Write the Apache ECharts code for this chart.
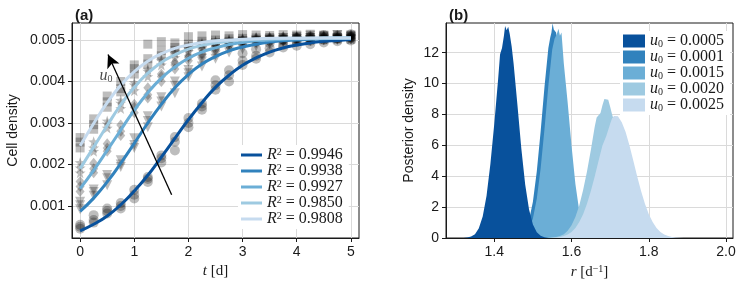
<!DOCTYPE html>
<html><head><meta charset="utf-8">
<script src="https://cdn.jsdelivr.net/npm/echarts@6/dist/echarts.min.js"></script>
<style>html,body{margin:0;padding:0;background:#fff}#c{width:744px;height:287px}</style>
</head><body><div id="c"></div>
<script>
// ---------- Panel (a): data ----------
const times = [0,0.25,0.5,0.75,1,1.25,1.5,1.75,2,2.25,2.5,2.75,3,3.25,3.5,3.75,4,4.25,4.5,4.75,5];
const r2Labels = ['0.9946','0.9938','0.9927','0.9850','0.9808'];
const fit1 = [0.00040,0.00056,0.00076,0.00103,0.00136,0.00174,0.00218,0.00263,0.00308,0.00349,0.00386,0.00415,0.00439,0.00457,0.00471,0.00481,0.00488,0.00493,0.00497,0.00499,0.00501];
const fit2 = [0.00087,0.00119,0.00158,0.00203,0.00251,0.00300,0.00345,0.00385,0.00417,0.00442,0.00460,0.00474,0.00483,0.00490,0.00495,0.00498,0.00500,0.00502,0.00503,0.00504,0.00504];
const fit3 = [0.00142,0.00186,0.00234,0.00283,0.00331,0.00373,0.00408,0.00435,0.00456,0.00471,0.00481,0.00489,0.00494,0.00498,0.00500,0.00502,0.00503,0.00503,0.00504,0.00504,0.00505];
const fit4 = [0.00190,0.00242,0.00294,0.00344,0.00386,0.00420,0.00446,0.00464,0.00478,0.00487,0.00493,0.00497,0.00500,0.00502,0.00503,0.00504,0.00504,0.00504,0.00505,0.00505,0.00505];
const fit5 = [0.00245,0.00299,0.00349,0.00391,0.00424,0.00449,0.00467,0.00480,0.00488,0.00494,0.00498,0.00500,0.00502,0.00503,0.00504,0.00504,0.00504,0.00505,0.00505,0.00505,0.00505];

// observations (three replicates per time point)
const obs1a = [0.00050,0.00078,0.00094,0.00107,0.00139,0.00170,0.00222,0.00266,0.00300,0.00347,0.00403,0.00427,0.00468,0.00478,0.00492,0.00500,0.00505,0.00508,0.00512,0.00510,0.00514];
const obs1b = [0.00045,0.00066,0.00082,0.00094,0.00127,0.00158,0.00215,0.00234,0.00290,0.00332,0.00391,0.00415,0.00450,0.00462,0.00480,0.00488,0.00495,0.00498,0.00500,0.00503,0.00506];
const obs1c = [0.00055,0.00060,0.00088,0.00100,0.00118,0.00165,0.00205,0.00255,0.00312,0.00340,0.00380,0.00400,0.00440,0.00455,0.00470,0.00482,0.00486,0.00490,0.00494,0.00497,0.00499];
const obs2a = [0.00110,0.00134,0.00167,0.00194,0.00263,0.00316,0.00352,0.00400,0.00428,0.00455,0.00470,0.00480,0.00490,0.00498,0.00502,0.00505,0.00508,0.00510,0.00509,0.00512,0.00510];
const obs2b = [0.00102,0.00125,0.00150,0.00210,0.00247,0.00290,0.00340,0.00372,0.00410,0.00436,0.00455,0.00470,0.00478,0.00485,0.00490,0.00494,0.00497,0.00498,0.00500,0.00501,0.00502];
const obs2c = [0.00092,0.00140,0.00175,0.00200,0.00240,0.00305,0.00362,0.00390,0.00420,0.00448,0.00463,0.00488,0.00495,0.00493,0.00498,0.00500,0.00503,0.00505,0.00506,0.00505,0.00507];
const obs3a = [0.00159,0.00203,0.00250,0.00295,0.00345,0.00385,0.00418,0.00445,0.00462,0.00478,0.00488,0.00495,0.00500,0.00504,0.00506,0.00508,0.00507,0.00510,0.00509,0.00511,0.00512];
const obs3b = [0.00147,0.00190,0.00232,0.00280,0.00325,0.00368,0.00400,0.00430,0.00450,0.00468,0.00478,0.00485,0.00490,0.00494,0.00496,0.00498,0.00500,0.00499,0.00501,0.00502,0.00503];
const obs3c = [0.00135,0.00180,0.00240,0.00270,0.00338,0.00360,0.00412,0.00440,0.00458,0.00465,0.00484,0.00492,0.00496,0.00500,0.00503,0.00504,0.00505,0.00506,0.00507,0.00506,0.00508];
const obs4a = [0.00205,0.00255,0.00305,0.00355,0.00398,0.00430,0.00455,0.00472,0.00485,0.00493,0.00498,0.00502,0.00505,0.00507,0.00508,0.00509,0.00510,0.00508,0.00511,0.00510,0.00512];
const obs4b = [0.00192,0.00240,0.00288,0.00335,0.00378,0.00412,0.00440,0.00458,0.00472,0.00482,0.00488,0.00492,0.00496,0.00498,0.00500,0.00501,0.00500,0.00502,0.00502,0.00503,0.00503];
const obs4c = [0.00180,0.00232,0.00298,0.00348,0.00392,0.00425,0.00450,0.00468,0.00480,0.00490,0.00495,0.00500,0.00502,0.00504,0.00505,0.00506,0.00506,0.00507,0.00507,0.00508,0.00508];
const obs5a = [0.00265,0.00310,0.00365,0.00400,0.00440,0.00490,0.00496,0.00493,0.00508,0.00510,0.00512,0.00510,0.00513,0.00512,0.00511,0.00513,0.00512,0.00514,0.00512,0.00513,0.00512];
const obs5b = [0.00254,0.00296,0.00351,0.00383,0.00431,0.00455,0.00475,0.00482,0.00490,0.00497,0.00500,0.00503,0.00504,0.00505,0.00506,0.00505,0.00507,0.00506,0.00507,0.00506,0.00507];
const obs5c = [0.00240,0.00285,0.00338,0.00375,0.00418,0.00442,0.00462,0.00475,0.00484,0.00490,0.00494,0.00497,0.00499,0.00500,0.00501,0.00500,0.00502,0.00501,0.00502,0.00503,0.00502];

const aXTicks = [0,1,2,3,4,5];
const aYTicks = [0.001,0.002,0.003,0.004,0.005];
const arrowTail = [1.69, 0.00127];
const arrowHead = [0.515, 0.00465];
const u0TextPos = [0.48, 0.00413];

// ---------- Panel (b): data ----------
const u0Labels = ['0.0005','0.0001','0.0015','0.0020','0.0025'];
const rA = [1.32,1.33,1.34,1.35,1.36,1.37,1.38,1.39,1.40,1.41,1.415,1.42,1.425,1.428,1.432,1.436,1.44,1.445,1.45,1.46,1.47,1.48,1.49,1.50,1.51,1.52,1.53,1.54];
const dA = [0,0.03,0.09,0.25,0.63,1.4,2.74,4.8,7.4,10.3,11.9,12.3,13.1,13.72,13.45,13.68,13.2,12.4,11.3,8.6,5.8,3.47,1.85,0.88,0.37,0.14,0.045,0];
const rB = [1.44,1.45,1.46,1.47,1.48,1.49,1.50,1.51,1.52,1.53,1.54,1.545,1.548,1.551,1.554,1.558,1.56,1.57,1.58,1.59,1.60,1.61,1.62,1.63,1.64,1.65,1.66];
const dB = [0,0.03,0.08,0.2,0.5,1.15,2.35,4.3,6.9,9.8,12.3,13.0,13.3,13.9,13.5,13.6,13.3,11.6,8.9,6.1,3.7,2.0,0.95,0.4,0.15,0.05,0];
const rC = [1.44,1.45,1.46,1.47,1.48,1.49,1.50,1.51,1.52,1.53,1.54,1.55,1.556,1.562,1.566,1.57,1.574,1.58,1.59,1.60,1.61,1.62,1.63,1.64,1.65,1.66,1.67];
const dC = [0,0.007,0.025,0.08,0.23,0.57,1.27,2.54,4.5,7.05,9.85,12.2,12.9,13.2,13.55,13.1,13.3,11.3,8.75,5.98,3.5,1.75,0.85,0.36,0.14,0.05,0];
const rD = [1.54,1.55,1.56,1.57,1.58,1.59,1.60,1.61,1.62,1.63,1.64,1.65,1.66,1.665,1.67,1.675,1.68,1.685,1.69,1.695,1.70,1.705,1.71,1.72,1.73,1.74,1.75,1.76,1.77,1.78,1.79,1.80,1.81,1.82,1.83,1.84];
const dD = [0,0.027,0.06,0.125,0.25,0.47,0.82,1.36,2.1,3.1,4.3,5.7,7.2,7.8,7.9,8.1,8.6,9.0,9.1,8.95,8.5,8.0,7.6,6.9,5.65,4.3,3.1,2.1,1.36,0.82,0.47,0.25,0.125,0.06,0.027,0];
const rE = [1.54,1.55,1.56,1.57,1.58,1.59,1.60,1.61,1.62,1.63,1.64,1.65,1.66,1.67,1.68,1.69,1.70,1.705,1.71,1.715,1.72,1.73,1.74,1.75,1.76,1.77,1.78,1.79,1.80,1.81,1.82,1.83,1.84,1.85,1.86,1.87,1.88,1.89,1.90];
const dE = [0,0.017,0.034,0.068,0.13,0.23,0.39,0.65,1.03,1.53,2.21,3.04,3.98,5.0,5.99,6.6,7.4,7.75,7.9,7.85,7.88,7.5,6.86,5.99,5.0,3.98,3.04,2.21,1.53,1.03,0.65,0.39,0.23,0.13,0.068,0.034,0.017,0.005,0];
const bXTicks = [1.4,1.6,1.8,2.0];
const bYTicks = [0,2,4,6,8,10,12];

// ---------- styling ----------
const blues = ['#08519c','#3182bd','#6baed6','#9ecae1','#c6dbef'];
const SANS = 'Liberation Sans';
const SERIF = 'Liberation Serif';
const INK = '#1a1a1a';
const GRIDC = '#dadada';
const STAR = 'path://M0,-10 L2.35,-3.24 L9.51,-3.09 L3.8,1.24 L5.88,8.09 L0,4 L-5.88,8.09 L-3.8,1.24 L-9.51,-3.09 L-2.35,-3.24 Z';

const pairs = (xs, ys) => xs.map((x, i) => [x, ys[i]]);
const reps = (a, b, c) => times.flatMap((t, i) => [[t, a[i]], [t, b[i]], [t, c[i]]]);

const fits = [fit1, fit2, fit3, fit4, fit5];
const obs = [[obs1a,obs1b,obs1c],[obs2a,obs2b,obs2c],[obs3a,obs3b,obs3c],[obs4a,obs4b,obs4c],[obs5a,obs5b,obs5c]];
const shapes = [
  {symbol:'circle', size:10, rot:0},
  {symbol:'triangle', size:10, rot:180},
  {symbol:'diamond', size:[9,11], rot:0},
  {symbol:STAR, size:11, rot:0},
  {symbol:'rect', size:9, rot:0}
];

function axisCommon(ticks, fmt) {
  return {
    type: 'value',
    axisLine: {show: true, onZero: false, lineStyle: {color: INK, width: 1}},
    axisTick: {show: true, inside: false, length: 4, customValues: ticks, lineStyle: {color: INK, width: 1}},
    axisLabel: {customValues: ticks, formatter: fmt, fontFamily: SANS, fontSize: 14, color: INK, margin: 7},
    splitLine: {show: true, lineStyle: {color: GRIDC, width: 1}}
  };
}

const series = [];
// observations (below the fitted curves)
obs.forEach((o, i) => {
  series.push({
    type: 'scatter', name: 'obs' + i, xAxisIndex: 0, yAxisIndex: 0,
    data: reps(o[0], o[1], o[2]), symbol: shapes[i].symbol, symbolSize: shapes[i].size,
    symbolRotate: shapes[i].rot, itemStyle: {color: 'rgba(0,0,0,0.32)'}, z: 3, silent: true
  });
});
// fitted curves
fits.forEach((f, i) => {
  series.push({
    type: 'line', name: r2Labels[i], xAxisIndex: 0, yAxisIndex: 0,
    data: pairs(times, f), smooth: true, symbol: 'none',
    lineStyle: {color: blues[i], width: 3}, itemStyle: {color: blues[i]}, z: 4
  });
});
// arrow and u0 label
series.push({
  type: 'scatter', name: 'u0label', xAxisIndex: 0, yAxisIndex: 0,
  data: [u0TextPos], symbolSize: 1, itemStyle: {color: 'rgba(0,0,0,0)'}, z: 6,
  label: {show: true, position: 'inside', formatter: '{i|u}{s|0}',
    rich: {i: {fontFamily: SERIF, fontStyle: 'italic', fontSize: 16, color: INK},
           s: {fontFamily: SERIF, fontSize: 10, color: INK, verticalAlign: 'bottom', padding: [6,0,0,0]}}},
  markLine: {silent: true, symbol: ['none', 'arrow'], symbolSize: [10, 13],
    lineStyle: {color: '#000', width: 1.3, type: 'solid'}, label: {show: false},
    data: [[{coord: arrowTail}, {coord: arrowHead}]]}
});
// densities: draw #3182bd .. #c6dbef then dark on top
const dens = [[rA,dA],[rB,dB],[rC,dC],[rD,dD],[rE,dE]];
[1,2,3,4,0].forEach(i => {
  series.push({
    type: 'line', name: u0Labels[i], xAxisIndex: 1, yAxisIndex: 1,
    data: pairs(dens[i][0], dens[i][1]), symbol: 'none', smooth: false,
    lineStyle: {width: 0, color: blues[i]}, itemStyle: {color: blues[i]},
    areaStyle: {color: blues[i], opacity: 1}, z: 2
  });
});

const legendText = (sub) => ({
  fontFamily: SERIF, fontSize: 16, color: INK, lineHeight: 16,
  rich: {
    i: {fontFamily: SERIF, fontStyle: 'italic', fontSize: 16, color: INK, lineHeight: 16},
    s: {fontFamily: SERIF, fontSize: 10, color: INK, verticalAlign: sub ? 'bottom' : 'top', lineHeight: 10},
    t: {fontFamily: SERIF, fontSize: 16, color: INK, lineHeight: 16}
  }
});

const option = {
  animation: false,
  backgroundColor: '#fff',
  title: [
    {text: '(a)', left: 70, top: 3, textStyle: {fontFamily: SANS, fontSize: 15, fontWeight: 'bold', color: INK}},
    {text: '(b)', left: 444, top: 3, textStyle: {fontFamily: SANS, fontSize: 15, fontWeight: 'bold', color: INK}}
  ],
  grid: [
    {left: 72, top: 23, width: 287, height: 215, show: true, borderColor: INK, borderWidth: 1, backgroundColor: 'rgba(0,0,0,0)'},
    {left: 446, top: 23, width: 287, height: 215, show: true, borderColor: INK, borderWidth: 1, backgroundColor: 'rgba(0,0,0,0)'}
  ],
  xAxis: [
    Object.assign(axisCommon(aXTicks, v => String(Math.round(v))), {
      gridIndex: 0, min: -0.15, max: 5.15,
      name: '{i|t} [d]', nameLocation: 'middle', nameGap: 24,
      nameTextStyle: {fontFamily: SERIF, fontSize: 15, color: INK,
        rich: {i: {fontFamily: SERIF, fontStyle: 'italic', fontSize: 15, color: INK}}}
    }),
    Object.assign(axisCommon(bXTicks, v => v.toFixed(1)), {
      gridIndex: 1, min: 1.275, max: 2.018,
      name: '{i|r} [d{s|−1}]', nameLocation: 'middle', nameGap: 25,
      nameTextStyle: {fontFamily: SERIF, fontSize: 15, color: INK,
        rich: {i: {fontFamily: SERIF, fontStyle: 'italic', fontSize: 15, color: INK},
               s: {fontFamily: SERIF, fontSize: 10, color: INK, verticalAlign: 'top', padding: [0,0,6,0]}}}
    })
  ],
  yAxis: [
    Object.assign(axisCommon(aYTicks, v => v.toFixed(3)), {
      gridIndex: 0, min: 0.000229, max: 0.00541,
      name: 'Cell density', nameLocation: 'middle', nameGap: 52,
      nameTextStyle: {fontFamily: SANS, fontSize: 14, color: INK}
    }),
    Object.assign(axisCommon(bYTicks, v => String(Math.round(v))), {
      gridIndex: 1, min: 0, max: 13.92,
      name: 'Posterior density', nameLocation: 'middle', nameGap: 30,
      nameTextStyle: {fontFamily: SANS, fontSize: 14, color: INK}
    })
  ],
  legend: [
    {
      data: r2Labels, orient: 'vertical', left: 238, top: 145,
      icon: 'rect', itemWidth: 21, itemHeight: 3, itemGap: 0, padding: [2, 6, 2, 3],
      backgroundColor: '#fff', borderWidth: 0, selectedMode: false,
      formatter: n => '{i|R}{s|2}{t| = ' + n + '}',
      textStyle: legendText(false)
    },
    {
      data: u0Labels, orient: 'vertical', left: 620, top: 31,
      icon: 'rect', itemWidth: 22, itemHeight: 13, itemGap: 0, padding: [2, 6, 2, 3],
      backgroundColor: '#fff', borderWidth: 0, selectedMode: false,
      formatter: n => '{i|u}{s|0}{t| = ' + n + '}',
      textStyle: legendText(true)
    }
  ],
  series: series
};

const chart = echarts.init(document.getElementById('c'), null, {renderer: 'canvas'});
chart.setOption(option);
</script>
</body></html>
